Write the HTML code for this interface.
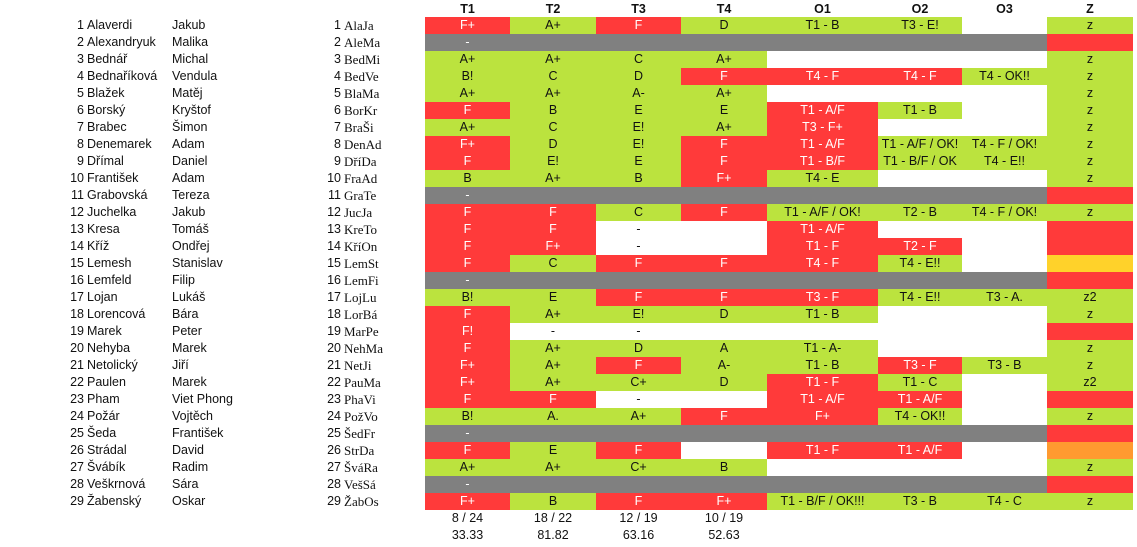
<!DOCTYPE html>
<html><head><meta charset="utf-8"><style>
body{margin:0;background:#fff;width:1137px;height:547px;overflow:hidden;font-family:"Liberation Sans",Arial,sans-serif;font-size:12.5px;color:#111}
table{position:absolute;left:0;top:1px;border-collapse:collapse;table-layout:fixed}
td{padding:0;height:17px;line-height:17px;white-space:nowrap;overflow:visible;text-align:center}
td.n{text-align:right}
td.s{text-align:left;padding-left:3px}
td.f{text-align:left}
td.c{text-align:left;padding-left:3px;font-family:"Liberation Serif",serif;font-size:13px;line-height:16px}
th{height:16px;line-height:16px;padding:0;font-size:12.5px;font-weight:bold}
.r{background:#ff3a3a;color:#fff}
.g{background:#bbe33e}
.x{background:#808080;color:#fff}
.y{background:#ffd22a}
.o{background:#ff9a30}
</style></head><body>
<table>
<colgroup><col style="width:84px"><col style="width:88px"><col style="width:128px"><col style="width:41px"><col style="width:84px"><col style="width:85px"><col style="width:86px"><col style="width:85px"><col style="width:86px"><col style="width:111px"><col style="width:84px"><col style="width:85px"><col style="width:86px"></colgroup>
<tr><th></th><th></th><th></th><th></th><th></th><th>T1</th><th>T2</th><th>T3</th><th>T4</th><th>O1</th><th>O2</th><th>O3</th><th>Z</th></tr>
<tr><td class="n">1</td><td class="s">Alaverdi</td><td class="f">Jakub</td><td class="n">1</td><td class="c">AlaJa</td><td class="r">F+</td><td class="g">A+</td><td class="r">F</td><td class="g">D</td><td class="g">T1 - B</td><td class="g">T3 - E!</td><td></td><td class="g">z</td></tr>
<tr><td class="n">2</td><td class="s">Alexandryuk</td><td class="f">Malika</td><td class="n">2</td><td class="c">AleMa</td><td class="x">-</td><td class="x"></td><td class="x"></td><td class="x"></td><td class="x"></td><td class="x"></td><td class="x"></td><td class="r"></td></tr>
<tr><td class="n">3</td><td class="s">Bednář</td><td class="f">Michal</td><td class="n">3</td><td class="c">BedMi</td><td class="g">A+</td><td class="g">A+</td><td class="g">C</td><td class="g">A+</td><td></td><td></td><td></td><td class="g">z</td></tr>
<tr><td class="n">4</td><td class="s">Bednaříková</td><td class="f">Vendula</td><td class="n">4</td><td class="c">BedVe</td><td class="g">B!</td><td class="g">C</td><td class="g">D</td><td class="r">F</td><td class="r">T4 - F</td><td class="r">T4 - F</td><td class="g">T4 - OK!!</td><td class="g">z</td></tr>
<tr><td class="n">5</td><td class="s">Blažek</td><td class="f">Matěj</td><td class="n">5</td><td class="c">BlaMa</td><td class="g">A+</td><td class="g">A+</td><td class="g">A-</td><td class="g">A+</td><td></td><td></td><td></td><td class="g">z</td></tr>
<tr><td class="n">6</td><td class="s">Borský</td><td class="f">Kryštof</td><td class="n">6</td><td class="c">BorKr</td><td class="r">F</td><td class="g">B</td><td class="g">E</td><td class="g">E</td><td class="r">T1 - A/F</td><td class="g">T1 - B</td><td></td><td class="g">z</td></tr>
<tr><td class="n">7</td><td class="s">Brabec</td><td class="f">Šimon</td><td class="n">7</td><td class="c">BraŠi</td><td class="g">A+</td><td class="g">C</td><td class="g">E!</td><td class="g">A+</td><td class="r">T3 - F+</td><td></td><td></td><td class="g">z</td></tr>
<tr><td class="n">8</td><td class="s">Denemarek</td><td class="f">Adam</td><td class="n">8</td><td class="c">DenAd</td><td class="r">F+</td><td class="g">D</td><td class="g">E!</td><td class="r">F</td><td class="r">T1 - A/F</td><td class="g">T1 - A/F / OK!</td><td class="g">T4 - F / OK!</td><td class="g">z</td></tr>
<tr><td class="n">9</td><td class="s">Dřímal</td><td class="f">Daniel</td><td class="n">9</td><td class="c">DříDa</td><td class="r">F</td><td class="g">E!</td><td class="g">E</td><td class="r">F</td><td class="r">T1 - B/F</td><td class="g">T1 - B/F / OK</td><td class="g">T4 - E!!</td><td class="g">z</td></tr>
<tr><td class="n">10</td><td class="s">František</td><td class="f">Adam</td><td class="n">10</td><td class="c">FraAd</td><td class="g">B</td><td class="g">A+</td><td class="g">B</td><td class="r">F+</td><td class="g">T4 - E</td><td></td><td></td><td class="g">z</td></tr>
<tr><td class="n">11</td><td class="s">Grabovská</td><td class="f">Tereza</td><td class="n">11</td><td class="c">GraTe</td><td class="x">-</td><td class="x"></td><td class="x"></td><td class="x"></td><td class="x"></td><td class="x"></td><td class="x"></td><td class="r"></td></tr>
<tr><td class="n">12</td><td class="s">Juchelka</td><td class="f">Jakub</td><td class="n">12</td><td class="c">JucJa</td><td class="r">F</td><td class="r">F</td><td class="g">C</td><td class="r">F</td><td class="g">T1 - A/F / OK!</td><td class="g">T2 - B</td><td class="g">T4 - F / OK!</td><td class="g">z</td></tr>
<tr><td class="n">13</td><td class="s">Kresa</td><td class="f">Tomáš</td><td class="n">13</td><td class="c">KreTo</td><td class="r">F</td><td class="r">F</td><td>-</td><td></td><td class="r">T1 - A/F</td><td></td><td></td><td class="r"></td></tr>
<tr><td class="n">14</td><td class="s">Kříž</td><td class="f">Ondřej</td><td class="n">14</td><td class="c">KříOn</td><td class="r">F</td><td class="r">F+</td><td>-</td><td></td><td class="r">T1 - F</td><td class="r">T2 - F</td><td></td><td class="r"></td></tr>
<tr><td class="n">15</td><td class="s">Lemesh</td><td class="f">Stanislav</td><td class="n">15</td><td class="c">LemSt</td><td class="r">F</td><td class="g">C</td><td class="r">F</td><td class="r">F</td><td class="r">T4 - F</td><td class="g">T4 - E!!</td><td></td><td class="y"></td></tr>
<tr><td class="n">16</td><td class="s">Lemfeld</td><td class="f">Filip</td><td class="n">16</td><td class="c">LemFi</td><td class="x">-</td><td class="x"></td><td class="x"></td><td class="x"></td><td class="x"></td><td class="x"></td><td class="x"></td><td class="r"></td></tr>
<tr><td class="n">17</td><td class="s">Lojan</td><td class="f">Lukáš</td><td class="n">17</td><td class="c">LojLu</td><td class="g">B!</td><td class="g">E</td><td class="r">F</td><td class="r">F</td><td class="r">T3 - F</td><td class="g">T4 - E!!</td><td class="g">T3 - A.</td><td class="g">z2</td></tr>
<tr><td class="n">18</td><td class="s">Lorencová</td><td class="f">Bára</td><td class="n">18</td><td class="c">LorBá</td><td class="r">F</td><td class="g">A+</td><td class="g">E!</td><td class="g">D</td><td class="g">T1 - B</td><td></td><td></td><td class="g">z</td></tr>
<tr><td class="n">19</td><td class="s">Marek</td><td class="f">Peter</td><td class="n">19</td><td class="c">MarPe</td><td class="r">F!</td><td>-</td><td>-</td><td></td><td></td><td></td><td></td><td class="r"></td></tr>
<tr><td class="n">20</td><td class="s">Nehyba</td><td class="f">Marek</td><td class="n">20</td><td class="c">NehMa</td><td class="r">F</td><td class="g">A+</td><td class="g">D</td><td class="g">A</td><td class="g">T1 - A-</td><td></td><td></td><td class="g">z</td></tr>
<tr><td class="n">21</td><td class="s">Netolický</td><td class="f">Jiří</td><td class="n">21</td><td class="c">NetJi</td><td class="r">F+</td><td class="g">A+</td><td class="r">F</td><td class="g">A-</td><td class="g">T1 - B</td><td class="r">T3 - F</td><td class="g">T3 - B</td><td class="g">z</td></tr>
<tr><td class="n">22</td><td class="s">Paulen</td><td class="f">Marek</td><td class="n">22</td><td class="c">PauMa</td><td class="r">F+</td><td class="g">A+</td><td class="g">C+</td><td class="g">D</td><td class="r">T1 - F</td><td class="g">T1 - C</td><td></td><td class="g">z2</td></tr>
<tr><td class="n">23</td><td class="s">Pham</td><td class="f">Viet Phong</td><td class="n">23</td><td class="c">PhaVi</td><td class="r">F</td><td class="r">F</td><td>-</td><td></td><td class="r">T1 - A/F</td><td class="r">T1 - A/F</td><td></td><td class="r"></td></tr>
<tr><td class="n">24</td><td class="s">Požár</td><td class="f">Vojtěch</td><td class="n">24</td><td class="c">PožVo</td><td class="g">B!</td><td class="g">A.</td><td class="g">A+</td><td class="r">F</td><td class="r">F+</td><td class="g">T4 - OK!!</td><td></td><td class="g">z</td></tr>
<tr><td class="n">25</td><td class="s">Šeda</td><td class="f">František</td><td class="n">25</td><td class="c">ŠedFr</td><td class="x">-</td><td class="x"></td><td class="x"></td><td class="x"></td><td class="x"></td><td class="x"></td><td class="x"></td><td class="r"></td></tr>
<tr><td class="n">26</td><td class="s">Strádal</td><td class="f">David</td><td class="n">26</td><td class="c">StrDa</td><td class="r">F</td><td class="g">E</td><td class="r">F</td><td></td><td class="r">T1 - F</td><td class="r">T1 - A/F</td><td></td><td class="o"></td></tr>
<tr><td class="n">27</td><td class="s">Švábík</td><td class="f">Radim</td><td class="n">27</td><td class="c">ŠváRa</td><td class="g">A+</td><td class="g">A+</td><td class="g">C+</td><td class="g">B</td><td></td><td></td><td></td><td class="g">z</td></tr>
<tr><td class="n">28</td><td class="s">Veškrnová</td><td class="f">Sára</td><td class="n">28</td><td class="c">VešSá</td><td class="x">-</td><td class="x"></td><td class="x"></td><td class="x"></td><td class="x"></td><td class="x"></td><td class="x"></td><td class="r"></td></tr>
<tr><td class="n">29</td><td class="s">Žabenský</td><td class="f">Oskar</td><td class="n">29</td><td class="c">ŽabOs</td><td class="r">F+</td><td class="g">B</td><td class="r">F</td><td class="r">F+</td><td class="g">T1 - B/F / OK!!!</td><td class="g">T3 - B</td><td class="g">T4 - C</td><td class="g">z</td></tr>
<tr><td></td><td></td><td></td><td></td><td></td><td>8 / 24</td><td>18 / 22</td><td>12 / 19</td><td>10 / 19</td><td></td><td></td><td></td><td></td></tr>
<tr><td></td><td></td><td></td><td></td><td></td><td>33.33</td><td>81.82</td><td>63.16</td><td>52.63</td><td></td><td></td><td></td><td></td></tr>
</table>
</body></html>
